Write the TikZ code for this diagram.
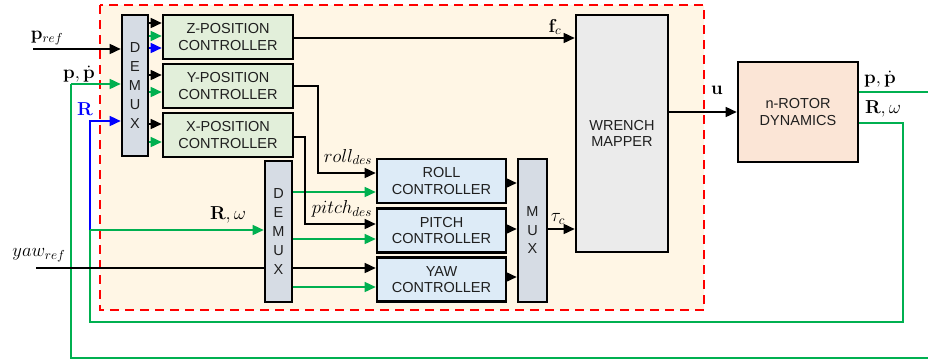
\documentclass[tikz,border=0pt]{standalone}
\usepackage{graphicx}
\usepackage[no-math]{fontspec}
\newfontfamily\boxfont{Liberation Sans}
\usetikzlibrary{arrows.meta}
\definecolor{gline}{HTML}{00B050}
\definecolor{bline}{HTML}{0000FF}
\definecolor{rdash}{HTML}{FF0000}
\definecolor{cream}{HTML}{FFF6E5}
\definecolor{posfill}{HTML}{E2EFDA}
\definecolor{attfill}{HTML}{DDEBF7}
\definecolor{muxfill}{HTML}{D6DCE4}
\definecolor{wrfill}{HTML}{EBEBEB}
\definecolor{dynfill}{HTML}{FBE5D6}
\definecolor{txt}{HTML}{1F1F1F}
\newcommand\biglbl[1]{\scalebox{1.3}{\Large$#1$}}
\begin{document}
\begin{tikzpicture}[x=1pt,y=-1pt,
  blk/.style={draw=black, line width=2.6pt, text=txt, align=center, inner sep=0pt,
    font=\boxfont\fontsize{14.5}{16.5}\selectfont},
  posbox/.style={blk, fill=posfill, minimum width=130pt, minimum height=44pt},
  attbox/.style={blk, fill=attfill, minimum width=129pt, minimum height=44pt},
  muxbox/.style={blk, fill=muxfill},
  arr/.style={line width=1.5pt, -{Triangle[length=11pt,width=10pt]}},
  ln/.style={line width=1.5pt},
  garr/.style={arr, draw=gline, color=gline},
  gln/.style={ln, draw=gline},
  barr/.style={arr, draw=bline, color=bline},
  lbl/.style={inner sep=0pt}
]
\useasboundingbox (0,0) rectangle (928,360);

% dashed region
\draw[rdash, fill=cream, line width=2.8pt, dash pattern=on 9pt off 6pt] (100,5) rectangle (704,310);

% blocks
\node[muxbox, minimum width=26pt, minimum height=141pt] (dm1) at (135,85.5)
  {D\\[2.5pt]E\\[2.5pt]M\\[2.5pt]U\\[2.5pt]X};
\node[posbox] (zp) at (228,37) {Z-POSITION\\CONTROLLER};
\node[posbox] (yp) at (228,86) {Y-POSITION\\CONTROLLER};
\node[posbox] (xp) at (228,135) {X-POSITION\\CONTROLLER};
\node[muxbox, minimum width=27pt, minimum height=141pt] (dm2) at (278.5,231.5)
  {D\\[2.5pt]E\\[2.5pt]M\\[2.5pt]U\\[2.5pt]X};
\node[attbox] (roll) at (441.5,181) {ROLL\\CONTROLLER};
\node[attbox] (pitch) at (441.5,230.5) {PITCH\\CONTROLLER};
\node[attbox] (yaw) at (441.5,279.5) {YAW\\CONTROLLER};
\node[muxbox, minimum width=29pt, minimum height=143pt] (mux) at (532.5,230.5)
  {M\\[2pt]U\\[2pt]X};
\node[blk, fill=wrfill, minimum width=92pt, minimum height=237pt] (wr) at (622,133.5)
  {WRENCH\\MAPPER};
\node[blk, fill=dynfill, minimum width=120pt, minimum height=100pt] (dyn) at (798,112)
  {n-ROTOR\\DYNAMICS};

% coordinates
\coordinate (prefin) at (33,49);
\coordinate (yawin) at (36,268);
\coordinate (pfb1) at (71,358);
\coordinate (pfb2) at (71,84);
\coordinate (redge) at (928,92);
\coordinate (bedge) at (928,358);
\coordinate (rw1) at (903,123);
\coordinate (rw2) at (903,322);
\coordinate (rw3) at (90,322);
\coordinate (rw4) at (90,230);
\coordinate (rb1) at (90,121);
\coordinate (rl1) at (318,86);
\coordinate (rl2) at (318,173);
\coordinate (pt1) at (305,137);
\coordinate (pt2) at (305,224);

% inputs to demux 1
\draw[arr] (prefin) -- (dm1.west |- prefin);
\draw[garr] (pfb2) -- (dm1.west |- pfb2);
\draw[gln] (bedge) -- (pfb1) -- (pfb2);
\draw[barr] (rw4) -- (rb1) -- (dm1.west |- rb1);

% demux 1 to position controllers
\draw[arr] (dm1.east |- 0,23) -- (zp.west |- 0,23);
\draw[garr] (dm1.east |- 0,36) -- (zp.west |- 0,36);
\draw[barr] (dm1.east |- 0,48) -- (zp.west |- 0,48);
\draw[arr] (dm1.east |- 0,75) -- (yp.west |- 0,75);
\draw[garr] (dm1.east |- 0,92) -- (yp.west |- 0,92);
\draw[arr] (dm1.east |- 0,124) -- (xp.west |- 0,124);
\draw[garr] (dm1.east |- 0,142) -- (xp.west |- 0,142);

% R, omega feedback
\draw[gln] (dyn.east |- rw1) -- (rw1) -- (rw2) -- (rw3) -- (rw4);
\draw[garr] (rw4) -- (dm2.west |- rw4);
\draw[gln] (dyn.east |- redge) -- (redge);

% yaw ref
\draw[ln] (yawin) -- (dm2.west |- yawin);
\draw[arr] (dm2.east |- yawin) -- (yaw.west |- yawin);

% demux 2 to attitude controllers
\draw[garr] (dm2.east |- 0,192) -- (roll.west |- 0,192);
\draw[garr] (dm2.east |- 0,239) -- (pitch.west |- 0,239);
\draw[garr] (dm2.east |- 0,287) -- (yaw.west |- 0,287);

% position controllers outputs
\draw[arr] (zp.east |- 0,38) -- (wr.west |- 0,38);
\draw[arr] (yp.east |- rl1) -- (rl1) -- (rl2) -- (roll.west |- rl2);
\draw[arr] (xp.east |- pt1) -- (pt1) -- (pt2) -- (pitch.west |- pt2);

% attitude controllers to mux
\draw[arr] (roll.east |- 0,183) -- (mux.west |- 0,183);
\draw[arr] (pitch.east |- 0,229) -- (mux.west |- 0,229);
\draw[arr] (yaw.east |- 0,277) -- (mux.west |- 0,277);

% mux to wrench, wrench to dynamics
\draw[arr] (mux.east |- 0,229) -- (wr.west |- 0,229);
\draw[arr] (wr.east |- 0,112) -- (dyn.west |- 0,112);

% labels
\node[lbl] (l1) at (47,38) {\biglbl{\mathbf{p}_{ref}}};
\node[lbl] (l2) at (79,74) {\biglbl{\mathbf{p},\dot{\mathbf{p}}}};
\node[lbl, text=bline] (l3) at (85,109) {\biglbl{\mathbf{R}}};
\node[lbl] (l4) at (228,215) {\biglbl{\mathbf{R},\omega}};
\node[lbl] (l5) at (39,255) {\biglbl{yaw_{ref}}};
\node[lbl] (l6) at (555,27) {\biglbl{\mathbf{f}_{c}}};
\node[lbl] (l7) at (348,157) {\biglbl{roll_{des}}};
\node[lbl] (l8) at (342,209) {\biglbl{pitch_{des}}};
\node[lbl] (l9) at (558,219) {\biglbl{\tau_{c}}};
\node[lbl] (l10) at (717,90) {\biglbl{\mathbf{u}}};
\node[lbl] (l11) at (880,79) {\biglbl{\mathbf{p},\dot{\mathbf{p}}}};
\node[lbl] (l12) at (883,109) {\biglbl{\mathbf{R},\omega}};
\end{tikzpicture}
\end{document}
